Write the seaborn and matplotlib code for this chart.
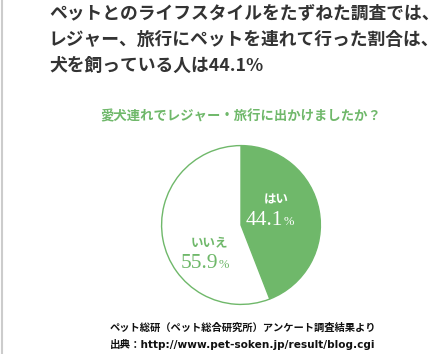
import matplotlib
matplotlib.use("Agg")
import matplotlib.pyplot as plt
import seaborn as sns

# data
labels = ["はい", "いいえ"]
values = [44.1, 55.9]
title_lines = [
    "ペットとのライフスタイルをたずねた調査では、",
    "レジャー、旅行にペットを連れて行った割合は、",
    "犬を飼っている人は44.1%",
]
question = "愛犬連れでレジャー・旅行に出かけましたか？"
source_lines = [
    "ペット総研（ペット総合研究所）アンケート調査結果より",
    "出典：http://www.pet-soken.jp/result/blog.cgi",
]

sns.set_theme(style="white")
plt.rcParams["font.family"] = ["Noto Sans CJK JP", "DejaVu Sans"]

green = "#6fb86a"
W, H = 445, 354
fig = plt.figure(figsize=(W / 100, H / 100), dpi=100)
fig.patch.set_facecolor("white")

def fx(x):
    return x / W

def fy(y):
    return 1 - y / H

# left gray rule
fig.add_artist(plt.Line2D([fx(2), fx(2)], [0, 1], color="#cccccc", lw=1.5))

# headline
for i, line in enumerate(title_lines):
    fig.text(fx(49), fy(13 + i * 26.5), line, fontsize=12.8, color="#333333",
             fontweight="bold", ha="left", va="center")

fig.text(fx(100), fy(116), question, fontsize=9.6, color=green,
         fontweight="bold", ha="left", va="center")

# pie
cx, cy, r = 241, 225, 81
ax = fig.add_axes([fx(cx - r), fy(cy + r), fx(2 * r), 2 * r / H])
colors = [green, "white"]
ax.pie(values, colors=colors, startangle=90, counterclock=False, radius=1,
       wedgeprops=dict(edgecolor=green, linewidth=1.0))
ax.set_xlim(-1.02, 1.02)
ax.set_ylim(-1.02, 1.02)
ax.set_aspect("equal")
ax.axis("off")

# labels inside slices
ax.text(0.45, 0.31, labels[0], color="white", fontsize=9, fontweight="bold",
        ha="center", va="center")
ax.text(0.53, 0.06, f"{values[0]}", color="white", fontsize=15.5,
        family="Liberation Serif", ha="right", va="center")
ax.text(0.54, 0.04, "%", color="white", fontsize=9,
        family="Liberation Serif", ha="left", va="center")

ax.text(-0.40, -0.22, labels[1], color=green, fontsize=9, fontweight="bold",
        ha="center", va="center")
ax.text(-0.29, -0.49, f"{values[1]}", color=green, fontsize=15.5,
        family="Liberation Serif", ha="right", va="center")
ax.text(-0.28, -0.51, "%", color=green, fontsize=9,
        family="Liberation Serif", ha="left", va="center")

# source
fig.text(fx(110), fy(328), source_lines[0], fontsize=7.4, color="#111111",
         fontweight="bold", ha="left", va="center")
fig.text(fx(110), fy(345), source_lines[1], fontsize=7.6, color="#111111",
         fontweight="bold", ha="left", va="center",
         family=["DejaVu Sans", "Noto Sans CJK JP"])

fig.savefig("out.png", dpi=100, facecolor="white")
